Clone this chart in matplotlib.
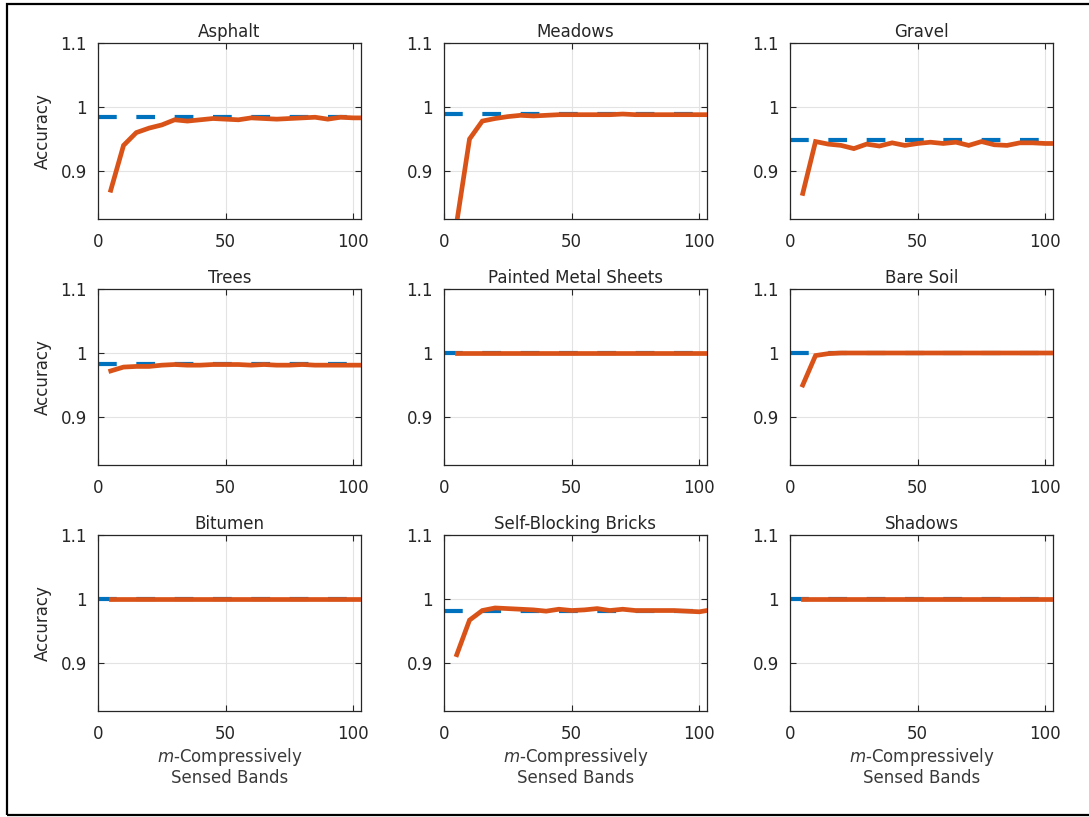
import matplotlib
matplotlib.use("Agg")
import matplotlib.pyplot as plt
from matplotlib.patches import Rectangle

plt.rcParams['font.family'] = ['DejaVu Sans']

# Number of compressively sensed bands
bands = [5, 10, 15, 20, 25, 30, 35, 40, 45, 50, 55, 60, 65, 70, 75, 80, 85, 90, 95, 100, 103]

classes = ["Asphalt", "Meadows", "Gravel",
           "Trees", "Painted Metal Sheets", "Bare Soil",
           "Bitumen", "Self-Blocking Bricks", "Shadows"]

# Accuracy using all bands (reference level)
full_band_acc = [0.985, 0.989, 0.948,
                 0.983, 1.000, 1.000,
                 1.000, 0.981, 1.000]

# Accuracy for compressively sensed bands
acc_asphalt = [0.870, 0.940, 0.960, 0.967, 0.972, 0.980, 0.978, 0.980, 0.982, 0.981, 0.980,
               0.983, 0.982, 0.981, 0.982, 0.983, 0.984, 0.981, 0.984, 0.983, 0.983]
acc_meadows = [0.820, 0.950, 0.978, 0.982, 0.985, 0.987, 0.986, 0.987, 0.988, 0.988, 0.988,
               0.988, 0.988, 0.989, 0.988, 0.988, 0.988, 0.988, 0.988, 0.988, 0.988]
acc_gravel = [0.865, 0.946, 0.942, 0.940, 0.935, 0.942, 0.939, 0.944, 0.940, 0.943, 0.945,
              0.943, 0.945, 0.940, 0.946, 0.941, 0.940, 0.944, 0.944, 0.943, 0.943]
acc_trees = [0.972, 0.978, 0.979, 0.979, 0.981, 0.982, 0.981, 0.981, 0.982, 0.982, 0.982,
             0.981, 0.982, 0.981, 0.981, 0.982, 0.981, 0.981, 0.981, 0.981, 0.981]
acc_metal = [1.000, 1.000, 1.000, 1.000, 1.000, 1.000, 1.000, 1.000, 1.000, 1.000, 1.000,
             1.000, 1.000, 1.000, 1.000, 1.000, 1.000, 1.000, 1.000, 1.000, 1.000]
acc_soil = [0.950, 0.996, 0.999, 1.000, 1.000, 1.000, 1.000, 1.000, 1.000, 1.000, 1.000,
            1.000, 1.000, 1.000, 1.000, 1.000, 1.000, 1.000, 1.000, 1.000, 1.000]
acc_bitumen = [1.000, 1.000, 1.000, 1.000, 1.000, 1.000, 1.000, 1.000, 1.000, 1.000, 1.000,
               1.000, 1.000, 1.000, 1.000, 1.000, 1.000, 1.000, 1.000, 1.000, 1.000]
acc_bricks = [0.913, 0.967, 0.982, 0.986, 0.985, 0.984, 0.983, 0.981, 0.984, 0.982, 0.983,
              0.985, 0.982, 0.984, 0.982, 0.982, 0.982, 0.982, 0.981, 0.980, 0.982]
acc_shadows = [1.000, 1.000, 1.000, 1.000, 1.000, 1.000, 1.000, 1.000, 1.000, 1.000, 1.000,
               1.000, 1.000, 1.000, 1.000, 1.000, 1.000, 1.000, 1.000, 1.000, 1.000]

cs_acc = [acc_asphalt, acc_meadows, acc_gravel,
          acc_trees, acc_metal, acc_soil,
          acc_bitumen, acc_bricks, acc_shadows]

yticks = [0.9, 1.0, 1.1]
yticklabels = ["0.9", "1", "1.1"]
xticks = [0, 50, 100]

BLUE = "#0072BD"
ORANGE = "#D95319"
TXT = "#262626"

W, H = 1089, 817
fig = plt.figure(figsize=(W / 100, H / 100), dpi=100)

col_left = [98, 444, 790]
row_top = [43, 289, 535]
ax_w, ax_h = 263, 176

for i, name in enumerate(classes):
    r, c = divmod(i, 3)
    rect = [col_left[c] / W, 1 - (row_top[r] + ax_h) / H, ax_w / W, ax_h / H]
    ax = fig.add_axes(rect)
    ax.plot([0, 103], [full_band_acc[i]] * 2, color=BLUE, lw=3.0,
            dashes=(4.5, 4.7), solid_capstyle='butt', dash_capstyle='butt', zorder=2)
    ax.plot(bands, cs_acc[i], color=ORANGE, lw=3.4, zorder=3,
            solid_joinstyle='miter')
    ax.set_xlim(0, 103)
    ax.set_ylim(0.825, 1.1)
    ax.set_xticks(xticks)
    ax.set_yticks(yticks)
    ax.set_yticklabels(yticklabels)
    ax.grid(True, color="#e3e3e3", lw=0.8)
    ax.set_axisbelow(True)
    ax.tick_params(direction='in', length=4, width=0.8, colors=TXT,
                   labelsize=12, top=True, right=True)
    ax.tick_params(axis='x', pad=10)
    ax.tick_params(axis='y', pad=8)
    for s in ax.spines.values():
        s.set_color(TXT)
        s.set_linewidth(0.9)
    ax.set_title(name, fontsize=12, color=TXT, pad=4)
    if c == 0:
        ax.set_ylabel("Accuracy", fontsize=12, color=TXT, labelpad=6)
    if r == 2:
        ax.set_xlabel("$m$-Compressively\nSensed Bands", fontsize=12,
                      color="#3a3a3a", labelpad=2, linespacing=1.1)

# Outer frame
fig.add_artist(Rectangle((7 / W, 2 / H), 1.2, 1 - 6 / H, transform=fig.transFigure,
                         fill=False, edgecolor="black", lw=1.6, clip_on=False))

fig.savefig("out.png", dpi=100)
